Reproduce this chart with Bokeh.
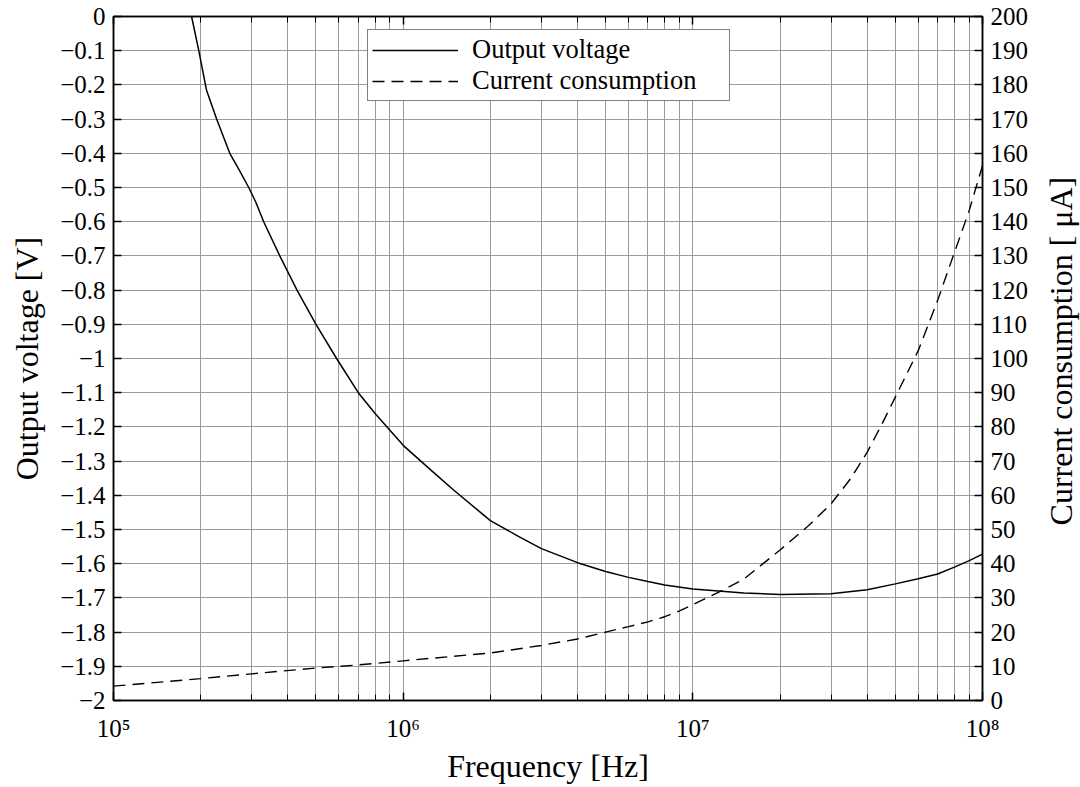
from bokeh.plotting import figure
from bokeh.layouts import row
from bokeh.models import (Range1d, LinearAxis, LogAxis, FixedTicker, Legend, LegendItem)
from bokeh.core.properties import value
from bokeh.embed import file_html
from bokeh.resources import INLINE
import math

# ---- data ----
volt_freq = [1.86e5, 1.97e5, 2.095e5, 2.27e5, 2.52e5, 2.7e5, 2.93e5, 3.1e5, 3.3e5, 3.75e5,
             4.3e5, 5e5, 5.89e5, 7e5, 8e5, 9e5, 1e6, 1.25e6, 1.5e6, 2e6, 2.5e6, 3e6, 4e6, 5e6,
             6e6, 7e6, 8e6, 1e7, 1.5e7, 2e7, 3e7, 4e7, 5e7, 6e7, 7e7, 8e7, 9e7, 1e8]
volt_vals = [0.0, -0.10, -0.216, -0.30, -0.40, -0.445, -0.50, -0.543, -0.60, -0.70, -0.80,
             -0.90, -1.00, -1.10, -1.161, -1.21, -1.254, -1.327, -1.386, -1.474, -1.52,
             -1.556, -1.597, -1.623, -1.64, -1.652, -1.662, -1.674, -1.686, -1.69, -1.688,
             -1.676, -1.659, -1.644, -1.63, -1.61, -1.591, -1.572]

cur_freq = [1e5, 2e5, 3e5, 5e5, 7e5, 1e6, 2e6, 3e6, 4e6, 5e6, 6e6, 7e6, 8e6, 9e6, 1e7,
            1.25e7, 1.5e7, 2e7, 2.5e7, 3e7, 3.5e7, 4e7, 4.5e7, 5e7, 6e7, 7e7, 8e7, 9e7, 1e8]
cur_vals = [4.2, 6.4, 7.8, 9.5, 10.4, 11.6, 13.9, 16.1, 18.0, 20.0, 21.6, 23.0, 24.5, 26.2,
            28.0, 32.0, 35.5, 44.0, 51.0, 57.5, 64.8, 72.6, 80.9, 88.7, 102.3, 117.0, 131.0,
            143.3, 156.4]

volt_ticks = [round(-2 + 0.1 * i, 1) for i in range(21)]
cur_ticks = [10 * i for i in range(21)]
freq_major = [1e5, 1e6, 1e7, 1e8]
freq_labels = ["10⁵", "10⁶", "10⁷", "10⁸"]
right_title = "Current consumption [   μA]"

FONT = "Liberation Serif"
GRID = "#9a9a9a"

def vlabel(v):
    return f"{v:g}".replace("-", "−")

p = figure(width=1040, height=787, x_axis_type="log", x_range=Range1d(1e5, 1e8),
           y_range=Range1d(-2, 0), output_backend="svg", toolbar_location=None,
           min_border_left=113, min_border_right=58, min_border_top=16, min_border_bottom=87,
           x_axis_location=None, y_axis_location=None)
p.extra_y_ranges = {"cur": Range1d(0, 200)}
p.outline_line_color = "black"
p.outline_line_width = 1.5

def style(ax):
    ax.major_tick_in = 8
    ax.major_tick_out = 0
    ax.minor_tick_in = 0
    ax.minor_tick_out = 0
    ax.axis_line_color = "black"
    ax.axis_line_width = 1.5
    ax.major_tick_line_color = "black"
    ax.major_tick_line_width = 1.5
    ax.major_label_text_font = FONT
    ax.major_label_text_font_size = "25px"
    ax.major_label_text_color = "black"
    ax.axis_label_text_font = FONT
    ax.axis_label_text_font_size = "32px"
    ax.axis_label_text_font_style = "normal"
    ax.axis_label_text_color = "black"

minor = [m * 10 ** e for e in range(5, 8) for m in range(2, 10)]

xb = LogAxis(axis_label="Frequency [Hz]")
style(xb)
xb.ticker = FixedTicker(ticks=freq_major, minor_ticks=minor)
xb.minor_tick_in = 6
xb.minor_tick_line_color = "black"
xb.major_label_overrides = {f: l for f, l in zip(freq_major, freq_labels)}
xb.major_label_standoff = 14
xb.axis_label_standoff = 3
p.add_layout(xb, "below")

xt = LogAxis()
style(xt)
xt.ticker = FixedTicker(ticks=freq_major, minor_ticks=minor)
xt.minor_tick_in = 6
xt.minor_tick_line_color = "black"
xt.major_label_overrides = {f: "" for f in freq_major}
xt.major_label_standoff = 0
p.add_layout(xt, "above")

yl = LinearAxis(axis_label="Output voltage [V]")
style(yl)
yl.ticker = FixedTicker(ticks=volt_ticks)
yl.major_label_overrides = {v: vlabel(v) for v in volt_ticks}
yl.major_label_standoff = 8
yl.axis_label_standoff = 12
p.add_layout(yl, "left")

yr = LinearAxis(y_range_name="cur")
style(yr)
yr.ticker = FixedTicker(ticks=cur_ticks)
yr.major_label_standoff = 8
p.add_layout(yr, "right")

# grid
p.xgrid.ticker = FixedTicker(ticks=freq_major, minor_ticks=minor)
p.xgrid.grid_line_color = GRID
p.xgrid.grid_line_width = 1
p.xgrid.minor_grid_line_color = GRID
p.xgrid.minor_grid_line_width = 1
p.ygrid.ticker = FixedTicker(ticks=volt_ticks)
p.ygrid.grid_line_color = GRID
p.ygrid.grid_line_width = 1

r1 = p.line(volt_freq, volt_vals, line_color="black", line_width=1.5)
r2 = p.line(cur_freq, cur_vals, y_range_name="cur", line_color="black", line_width=1.4,
            line_dash="12 7")

legend = Legend(items=[LegendItem(label="Output voltage", renderers=[r1]),
                       LegendItem(label="Current consumption", renderers=[r2])],
                location=(254, 599))
legend.label_text_font = FONT
legend.label_text_font_size = "26.5px"
legend.label_text_color = "black"
legend.glyph_width = 86
legend.glyph_height = 26
legend.label_height = 26
legend.label_width = 253
legend.label_standoff = 14
legend.padding = 4
legend.spacing = 0
legend.border_line_color = "black"
legend.border_line_width = 1.5
legend.background_fill_alpha = 1
legend.margin = 0
p.add_layout(legend, "center")

# narrow strip on the right carrying the right-axis title (reads bottom-to-top)
t = figure(width=40, height=787, x_range=Range1d(-1, 1), y_range=Range1d(-1, 1),
           output_backend="svg", toolbar_location=None,
           min_border_left=0, min_border_right=0, min_border_top=16, min_border_bottom=87,
           x_axis_location=None, y_axis_location=None)
t.outline_line_color = None
t.xgrid.visible = False
t.ygrid.visible = False
t.text(x=[0], y=[0.045], text=[right_title], angle=math.pi / 2,
       text_align="center", text_baseline="middle",
       text_font=value(FONT), text_font_size=value("32px"), text_color="black")

open("out.html", "w").write(file_html(row(p, t), INLINE))
